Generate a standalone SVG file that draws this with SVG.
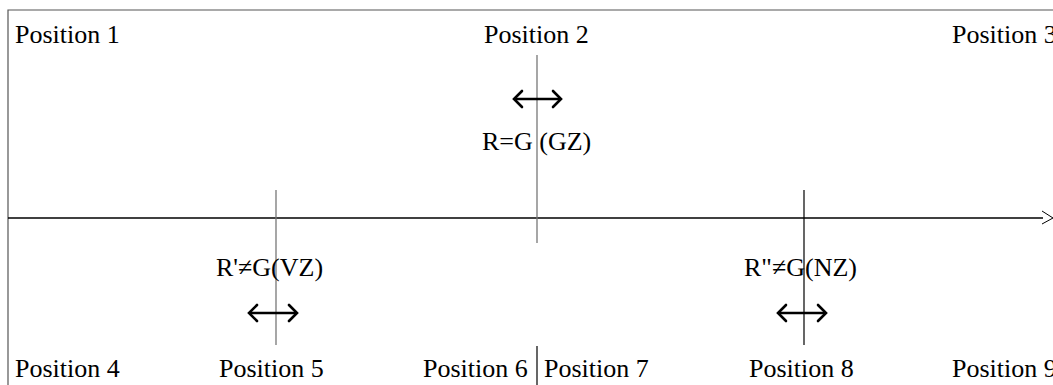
<svg xmlns="http://www.w3.org/2000/svg" width="1053" height="385" viewBox="0 0 1053 385">
<style>
text{font-family:"Liberation Serif","Times New Roman",serif;font-size:26px;fill:#000}
.frame{stroke:#555;stroke-width:1.2;fill:none}
.axis{stroke:#000;stroke-width:1.6;fill:none}
.vl{stroke:#777;stroke-width:1.3;fill:none}
.vk{stroke:#000;stroke-width:1.2;fill:none}
.dbl{stroke:#000;stroke-width:2.4;fill:none}
.head{stroke:#000;stroke-width:2.6;fill:none;stroke-linecap:round;stroke-linejoin:miter}
</style>
<g id="connectors">
<path class="frame" d="M8,385 V10 H1053"/>
<line class="axis" x1="8" y1="218" x2="1043" y2="218"/>
<path stroke="#000" stroke-width="1" fill="none" d="M1042,211 L1053,218 L1042,224"/>
<line class="vl" x1="537" y1="55" x2="537" y2="243"/>
<line class="vl" x1="276" y1="190" x2="276" y2="345"/>
<line class="vk" x1="804" y1="190" x2="804" y2="345"/>
<line class="vk" x1="537" y1="346" x2="537" y2="385"/>
<g id="arrow2"><line class="dbl" x1="514" y1="99" x2="561" y2="99"/><path class="head" d="M522,91 L514,99 L522,107 M553,91 L561,99 L553,107"/></g>
<g id="arrow5"><line class="dbl" x1="249" y1="313" x2="297" y2="313"/><path class="head" d="M257,305 L249,313 L257,321 M289,305 L297,313 L289,321"/></g>
<g id="arrow8"><line class="dbl" x1="778" y1="313" x2="826" y2="313"/><path class="head" d="M786,305 L778,313 L786,321 M818,305 L826,313 L818,321"/></g>
</g>
<g id="p1"><text x="15" y="43">Position 1</text></g>
<g id="p2"><text x="484" y="43">Position 2</text></g>
<g id="p3"><text x="952" y="43">Position 3</text></g>
<g id="gz"><text x="482" y="150">R=G (GZ)</text></g>
<g id="vz"><text x="216" y="276">R'≠G(VZ)</text></g>
<g id="nz"><text x="744" y="276">R"≠G(NZ)</text></g>
<g id="p4"><text x="15" y="377">Position 4</text></g>
<g id="p5"><text x="219" y="377">Position 5</text></g>
<g id="p6"><text x="423" y="377">Position 6</text></g>
<g id="p7"><text x="544" y="377">Position 7</text></g>
<g id="p8"><text x="749" y="377">Position 8</text></g>
<g id="p9"><text x="952" y="377">Position 9</text></g>
</svg>
